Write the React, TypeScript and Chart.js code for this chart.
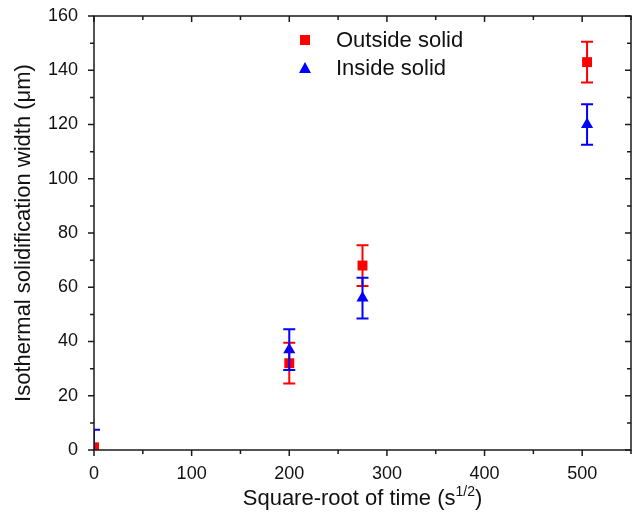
import React, { useEffect, useRef } from "react";
import { Chart, registerables } from "chart.js";

Chart.register(...registerables);

const xOutside = [0, 200, 275, 505];
const yOutside = [1, 32, 68, 143];
const errOutside = [0, 7.5, 7.5, 7.5];

const xInside = [0, 200, 275, 505];
const yInside = [0, 37, 56, 120];
const errInside = [7.5, 7.5, 7.5, 7.5];

const xMajor = [0, 100, 200, 300, 400, 500];
const xMinor = [50, 150, 250, 350, 450, 550];
const yMajor = [0, 20, 40, 60, 80, 100, 120, 140, 160];
const yMinor = [10, 30, 50, 70, 90, 110, 130, 150];

const FONT = "Arial, 'Liberation Sans', sans-serif";
const RED = "#ff0000";
const BLUE = "#0000ff";

const errorBarPlugin = {
  id: "errorBars",
  afterDatasetsDraw(chart: any) {
    const { ctx, chartArea, scales } = chart;
    ctx.save();
    ctx.beginPath();
    ctx.rect(chartArea.left, chartArea.top, chartArea.right - chartArea.left, chartArea.bottom - chartArea.top);
    ctx.clip();
    chart.data.datasets.forEach((ds: any) => {
      const errs: number[] = ds.errors || [];
      ctx.strokeStyle = ds.borderColor;
      ctx.lineWidth = 2;
      ds.data.forEach((p: any, i: number) => {
        const e = errs[i];
        if (!e) return;
        const x = scales.x.getPixelForValue(p.x);
        const y1 = scales.y.getPixelForValue(p.y - e);
        const y2 = scales.y.getPixelForValue(p.y + e);
        const cap = 6;
        ctx.beginPath();
        ctx.moveTo(x, y1);
        ctx.lineTo(x, y2);
        ctx.moveTo(x - cap, y1);
        ctx.lineTo(x + cap, y1);
        ctx.moveTo(x - cap, y2);
        ctx.lineTo(x + cap, y2);
        ctx.stroke();
      });
    });
    ctx.restore();
  },
};

const framePlugin = {
  id: "frame",
  afterDraw(chart: any) {
    const { ctx, chartArea, scales } = chart;
    const { left, right, top, bottom } = chartArea;
    ctx.save();
    ctx.strokeStyle = "#1a1a1a";
    ctx.lineWidth = 1.5;
    ctx.strokeRect(left, top, right - left, bottom - top);
    const major = 6;
    const minor = 4;
    ctx.beginPath();
    xMajor.forEach((v) => {
      const x = scales.x.getPixelForValue(v);
      ctx.moveTo(x, bottom);
      ctx.lineTo(x, bottom + major);
      ctx.moveTo(x, top);
      ctx.lineTo(x, top + major);
    });
    xMinor.forEach((v) => {
      const x = scales.x.getPixelForValue(v);
      ctx.moveTo(x, bottom);
      ctx.lineTo(x, bottom + minor);
      ctx.moveTo(x, top);
      ctx.lineTo(x, top + minor);
    });
    yMajor.forEach((v) => {
      const y = scales.y.getPixelForValue(v);
      ctx.moveTo(left, y);
      ctx.lineTo(left - major, y);
      ctx.moveTo(right, y);
      ctx.lineTo(right - major, y);
    });
    yMinor.forEach((v) => {
      const y = scales.y.getPixelForValue(v);
      ctx.moveTo(left, y);
      ctx.lineTo(left - minor, y);
      ctx.moveTo(right, y);
      ctx.lineTo(right - minor, y);
    });
    ctx.stroke();

    // x axis title with superscript
    ctx.fillStyle = "#111";
    ctx.textBaseline = "alphabetic";
    const main = "Square-root of time (s";
    const sup = "1/2";
    const end = ")";
    ctx.font = `22px ${FONT}`;
    const wMain = ctx.measureText(main).width;
    const wEnd = ctx.measureText(end).width;
    ctx.font = `14px ${FONT}`;
    const wSup = ctx.measureText(sup).width;
    const total = wMain + wSup + wEnd;
    const cx = (left + right) / 2;
    let x = cx - total / 2;
    const base = 505;
    ctx.textAlign = "left";
    ctx.font = `22px ${FONT}`;
    ctx.fillText(main, x, base);
    x += wMain;
    ctx.font = `14px ${FONT}`;
    ctx.fillText(sup, x, base - 9);
    x += wSup;
    ctx.font = `22px ${FONT}`;
    ctx.fillText(end, x, base);

    // legend
    const items = [
      { label: "Outside solid", color: RED, style: "rect" },
      { label: "Inside solid", color: BLUE, style: "triangle" },
    ];
    items.forEach((it, i) => {
      const my = 40 + i * 28;
      const mx = 305;
      ctx.fillStyle = it.color;
      if (it.style === "rect") {
        ctx.fillRect(mx - 5, my - 5, 10, 10);
      } else {
        ctx.beginPath();
        ctx.moveTo(mx, my - 6);
        ctx.lineTo(mx + 6, my + 5);
        ctx.lineTo(mx - 6, my + 5);
        ctx.closePath();
        ctx.fill();
      }
      ctx.fillStyle = "#111";
      ctx.font = `22px ${FONT}`;
      ctx.textAlign = "left";
      ctx.textBaseline = "middle";
      ctx.fillText(it.label, 336, my + 1);
    });
    ctx.restore();
  },
};

export default function App() {
  const ref = useRef<HTMLCanvasElement | null>(null);
  useEffect(() => {
    if (!ref.current) return;
    const chart = new Chart(ref.current, {
      type: "scatter",
      data: {
        datasets: [
          {
            label: "Outside solid",
            data: xOutside.map((x, i) => ({ x, y: yOutside[i] })),
            errors: errOutside,
            backgroundColor: RED,
            borderColor: RED,
            pointStyle: "rect",
            pointRadius: 7,
            pointBorderWidth: 0,
            clip: 0,
          } as any,
          {
            label: "Inside solid",
            data: xInside.map((x, i) => ({ x, y: yInside[i] })),
            errors: errInside,
            backgroundColor: BLUE,
            borderColor: BLUE,
            pointStyle: "triangle",
            pointRadius: 7,
            pointBorderWidth: 0,
            clip: 0,
          } as any,
        ],
      },
      options: {
        animation: false,
        responsive: false,
        maintainAspectRatio: false,
        layout: { padding: { top: 16, right: 6, left: 0, bottom: 0 } },
        plugins: {
          legend: { display: false },
          tooltip: { enabled: false },
        },
        scales: {
          x: {
            type: "linear",
            min: 0,
            max: 550,
            afterBuildTicks: (axis: any) => {
              axis.ticks = xMajor.map((v) => ({ value: v }));
            },
            afterFit: (axis: any) => {
              axis.height = 68;
              axis.paddingLeft = 0;
              axis.paddingRight = 0;
            },
            grid: { display: false, drawTicks: false },
            border: { display: false },
            ticks: {
              color: "#111",
              font: { family: FONT, size: 18 },
              padding: 13,
              maxRotation: 0,
            },
          },
          y: {
            type: "linear",
            min: 0,
            max: 160,
            afterBuildTicks: (axis: any) => {
              axis.ticks = yMajor.map((v) => ({ value: v }));
            },
            afterFit: (axis: any) => {
              axis.width = 94;
              axis.paddingTop = 0;
              axis.paddingBottom = 0;
            },
            grid: { display: false, drawTicks: false },
            border: { display: false },
            ticks: {
              color: "#111",
              font: { family: FONT, size: 18 },
              padding: 16,
            },
            title: {
              display: true,
              text: "Isothermal solidification width (μm)",
              color: "#111",
              font: { family: FONT, size: 22 },
              padding: { top: 11, bottom: 4 },
            },
          },
        },
      },
      plugins: [errorBarPlugin, framePlugin],
    } as any);
    return () => chart.destroy();
  }, []);
  return (
    <div style={{ position: "absolute", left: 0, top: 0, width: 638, height: 518 }}>
      <canvas ref={ref} width={638} height={518} style={{ display: "block" }} />
    </div>
  );
}
